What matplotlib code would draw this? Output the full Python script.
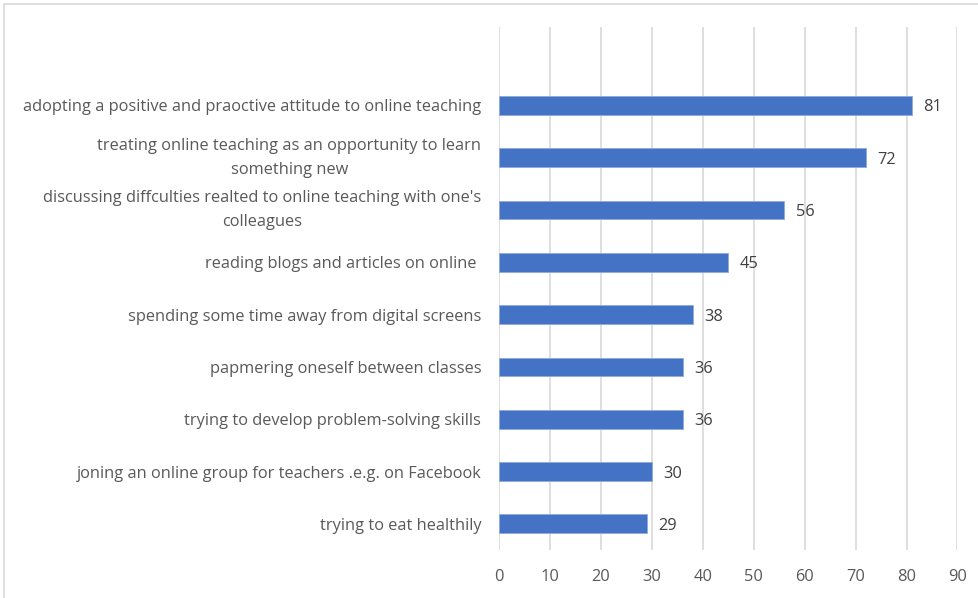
import matplotlib
matplotlib.use("Agg")
import matplotlib.pyplot as plt
from matplotlib.patches import Rectangle

categories = [
    "adopting a positive and praoctive attitude to online teaching",
    "treating online teaching as an opportunity to learn\nsomething new",
    "discussing diffculties realted to online teaching with one's\ncolleagues",
    "reading blogs and articles on online ",
    "spending some time away from digital screens",
    "papmering oneself between classes",
    "trying to develop problem-solving skills",
    "joning an online group for teachers .e.g. on Facebook",
    "trying to eat healthily",
]
values = [81, 72, 56, 45, 38, 36, 36, 30, 29]
x_ticks = [0, 10, 20, 30, 40, 50, 60, 70, 80, 90]

W, H = 979, 598
fig = plt.figure(figsize=(W / 100, H / 100), dpi=100)
fig.patch.set_facecolor("white")

# chart frame
fig.patches.append(Rectangle((4.5 / W, -0.1), 1.2, 1 - 4.5 / H + 0.1,
                             transform=fig.transFigure, fill=False,
                             edgecolor="#D9D9D9", linewidth=1.2))

ax = fig.add_axes([499.3 / W, 1 - 550 / H, (957.5 - 499.3) / W, (550 - 27) / H])

font = "Open Sans"
text_color = "#595959"
fs = 11.8

n = len(categories)
pos = list(range(n - 1, -1, -1))
ax.barh(pos, values, height=0.36, color="#4472C4", edgecolor="#8FAADC",
        linewidth=0.6, zorder=3)

for p, v in zip(pos, values):
    ax.text(v + 2.3, p, str(v), va="center_baseline", ha="left", fontsize=fs,
            family=font, color="#404040")

ax.set_xlim(0, 90)
ax.set_ylim(-0.5, n + 0.5)
ax.set_xticks(x_ticks)
ax.set_xticklabels([str(t) for t in x_ticks], family=font, fontsize=fs,
                   color=text_color)
ax.set_yticks(pos)
ylabels = ax.set_yticklabels(categories, family=font, fontsize=fs,
                             color=text_color, multialignment="center",
                             linespacing=1.65)
for lbl in ylabels:
    if "\n" in lbl.get_text():
        lbl.set_va("center")
ax.tick_params(axis="y", length=0, pad=13)
ax.tick_params(axis="x", length=0, pad=14)
ax.xaxis.grid(True, color="#D9D9D9", linewidth=1.2, zorder=0)
for s in ax.spines.values():
    s.set_visible(False)

fig.savefig("out.png", dpi=100, facecolor="white")
